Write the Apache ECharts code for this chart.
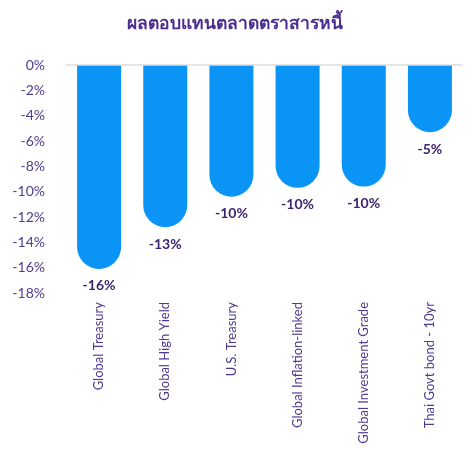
<!DOCTYPE html>
<html>
<head>
<meta charset="utf-8">
<script src="https://cdn.jsdelivr.net/npm/echarts@6/dist/echarts.min.js"></script>
<style>
  html, body { margin: 0; padding: 0; background: #ffffff; }
  #chart { width: 470px; height: 454px; }
</style>
</head>
<body>
<div id="chart"></div>
<script>
// Bond market returns by segment (%)
const categories = [
  'Global Treasury',
  'Global High Yield',
  'U.S. Treasury',
  'Global Inflation-linked',
  'Global Investment Grade',
  'Thai Govt bond - 10yr'
];
const returns = [-16.1, -12.8, -10.4, -9.7, -9.6, -5.3];
const yTicks = { min: -18, max: 0, interval: 2 };

const FONT = 'Lato, "Noto Sans", sans-serif';
const chart = echarts.init(document.getElementById('chart'), null, { renderer: 'canvas' });

chart.setOption({
  backgroundColor: '#ffffff',
  animation: false,
  title: {
    text: 'ผลตอบแทนตลาดตราสารหนี้',
    left: 'center',
    top: 9,
    textStyle: { color: '#4b2c8f', fontSize: 17.5, fontWeight: 'bold', fontFamily: FONT }
  },
  grid: { left: 66, right: 7, top: 65, bottom: 161, containLabel: false },
  xAxis: {
    type: 'category',
    data: categories,
    position: 'bottom',
    axisLine: { show: false, onZero: false },
    axisTick: { show: false },
    axisLabel: {
      rotate: 90,
      margin: 9,
      color: '#4f3a8f',
      fontSize: 13,
      fontFamily: FONT
    }
  },
  yAxis: {
    type: 'value',
    min: yTicks.min,
    max: yTicks.max,
    interval: yTicks.interval,
    axisLine: { show: false },
    axisTick: { show: false },
    splitLine: { show: false },
    axisLabel: {
      margin: 21,
      color: '#4f3a8f',
      fontSize: 14,
      fontFamily: FONT,
      formatter: v => v + '%'
    }
  },
  series: [{
    type: 'bar',
    data: returns,
    barWidth: 44,
    itemStyle: { color: '#0a94f6', borderRadius: [0, 0, 22, 22] },
    label: {
      show: true,
      position: 'bottom',
      distance: 10,
      color: '#3d2470',
      fontSize: 14,
      fontWeight: 'bold',
      fontFamily: FONT,
      formatter: p => Math.round(p.value) + '%'
    },
    markLine: {
      silent: true,
      symbol: 'none',
      label: { show: false },
      lineStyle: { color: '#dcdcdc', width: 1.5, type: 'solid' },
      data: [{ yAxis: 0 }]
    }
  }]
});
</script>
</body>
</html>
